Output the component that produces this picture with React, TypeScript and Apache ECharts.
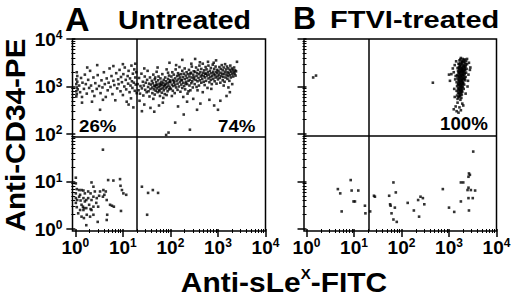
import React, { useEffect, useRef } from "react";
import * as echarts from "echarts";

// ---- data (all values in log10 units of fluorescence) ----
const decades = [0, 1, 2, 3, 4];

const gateA = { x: 1.3, y: 1.95 };
const gateB = { x: 1.32, y: 1.97 };

const pctA = ["26%", "74%"];
const pctB = ["100%"];

const aUpperLeft: number[][] = [
  [0.02,3.15],[0.02,3.05],[0.03,2.98],[0.02,2.90],[0.03,2.84],[0.04,3.22],[0.02,2.79],[0.04,3.10],[0.05,2.94],[0.03,3.30],
  [0.08,3.02],[0.10,2.88],[0.12,3.18],[0.14,2.78],[0.15,3.08],[0.18,2.95],[0.20,3.25],[0.22,3.05],[0.24,2.85],[0.27,3.14],
  [0.29,2.97],[0.31,3.33],[0.33,3.02],[0.36,2.90],[0.38,3.19],[0.40,2.80],[0.42,3.07],[0.45,2.95],[0.47,3.24],[0.50,3.01],
  [0.52,2.51],[0.53,2.86],[0.55,3.13],[0.57,2.98],[0.60,3.30],[0.62,3.05],[0.64,2.78],[0.66,3.17],[0.68,2.92],[0.70,3.08],
  [0.72,3.38],[0.74,2.99],[0.76,3.22],[0.78,2.84],[0.80,3.12],[0.82,3.03],[0.84,2.71],[0.86,3.28],[0.88,2.96],[0.90,3.15],
  [0.91,3.05],[0.93,3.35],[0.95,2.90],[0.96,3.20],[0.98,3.09],[1.00,2.82],[1.01,3.26],[1.03,3.00],[1.04,3.40],[1.06,3.14],
  [1.07,2.94],[1.08,2.68],[1.10,3.22],[1.11,3.06],[1.12,3.33],[1.14,2.88],[1.15,3.17],[1.16,3.02],[1.18,3.44],[1.19,3.11],
  [1.20,2.97],[1.21,3.27],[1.22,2.56],[1.23,3.08],[1.24,3.36],[1.25,2.91],[1.26,3.19],[1.27,3.04],[1.28,3.30],[1.29,2.86],
  [1.12,2.62],[0.35,2.68],[0.58,2.72],[0.25,3.40],[1.00,3.47],[0.14,2.66],[0.46,3.45],[0.80,3.43],[1.17,2.75],[1.26,3.48],
];

const aUpperRight: number[][] = [
  [1.31,3.05],[1.33,2.92],[1.34,3.18],[1.36,2.85],[1.37,3.01],[1.39,3.27],[1.40,2.96],[1.42,3.10],[1.43,2.81],[1.44,3.02],
  [1.46,3.21],[1.47,2.93],[1.48,3.08],[1.50,2.88],[1.51,3.14],[1.52,3.33],[1.53,2.99],[1.55,3.06],[1.56,2.79],[1.57,3.19],
  [1.58,2.95],[1.59,3.04],[1.35,2.70],[1.45,3.38],[1.54,2.90],
  [1.61,3.12],[1.62,2.98],[1.62,2.86],[1.63,3.07],[1.64,3.25],[1.65,2.94],[1.66,3.02],[1.67,2.83],[1.67,3.15],[1.68,3.00],
  [1.69,2.91],[1.70,3.09],[1.71,3.31],[1.71,2.96],[1.72,3.04],[1.73,2.88],[1.74,3.13],[1.75,2.99],[1.75,3.21],[1.76,2.93],
  [1.77,3.06],[1.78,2.80],[1.78,3.01],[1.79,3.17],[1.80,2.95],[1.81,3.10],[1.82,3.03],[1.82,2.87],[1.83,3.26],[1.84,2.97],
  [1.85,3.08],[1.86,3.14],[1.86,2.92],[1.87,3.01],[1.88,2.84],[1.89,3.19],[1.90,3.05],[1.90,2.96],[1.91,3.11],[1.92,3.36],
  [1.93,2.99],[1.94,3.07],[1.94,2.90],[1.95,3.16],[1.96,3.02],[1.97,2.94],[1.97,3.23],[1.98,3.09],[1.99,2.98],[1.99,3.13],
  [1.64,2.74],[1.73,3.40],[1.85,2.76],[1.92,2.82],[1.68,3.19],[1.77,2.90],[1.80,3.05],[1.88,3.03],[1.95,3.29],[1.70,3.03],
  [2.00,3.10],[2.01,2.95],[2.02,3.21],[2.03,3.04],[2.04,3.30],[2.05,2.91],[2.05,3.14],[2.06,3.01],[2.07,3.25],[2.08,3.08],
  [2.09,2.86],[2.10,3.17],[2.10,3.03],[2.11,3.36],[2.12,2.98],[2.13,3.12],[2.14,3.22],[2.15,3.06],[2.15,2.93],[2.16,3.28],
  [2.17,3.15],[2.18,3.00],[2.19,3.41],[2.20,3.09],[2.20,3.19],[2.21,2.89],[2.22,3.26],[2.23,3.04],[2.24,3.13],[2.25,3.33],
  [2.25,2.97],[2.26,3.20],[2.27,3.08],[2.28,3.27],[2.29,3.01],[2.30,3.16],[2.30,3.38],[2.31,2.94],[2.32,3.23],[2.33,3.10],
  [2.34,3.30],[2.35,3.05],[2.35,3.18],[2.36,2.85],[2.37,3.26],[2.38,3.12],[2.39,3.35],[2.40,3.02],[2.40,3.21],[2.41,3.14],
  [2.42,2.92],[2.43,3.29],[2.44,3.07],[2.45,3.19],[2.45,3.42],[2.46,3.11],[2.47,2.98],[2.48,3.25],[2.49,3.16],[2.49,3.32],
  [2.03,2.80],[2.12,3.45],[2.27,2.78],[2.38,2.90],[2.44,3.48],[2.07,3.11],[2.18,3.24],[2.23,3.14],[2.32,3.06],[2.42,3.27],
  [2.50,3.20],[2.51,3.05],[2.52,3.31],[2.53,3.14],[2.54,3.40],[2.55,3.22],[2.55,2.99],[2.56,3.28],[2.57,3.11],[2.58,3.35],
  [2.59,3.18],[2.60,3.02],[2.60,3.26],[2.61,3.44],[2.62,3.13],[2.63,3.30],[2.64,3.21],[2.65,3.08],[2.65,3.37],[2.66,3.24],
  [2.67,3.16],[2.68,3.48],[2.69,3.29],[2.70,3.10],[2.70,3.22],[2.71,3.34],[2.72,3.03],[2.73,3.19],[2.74,3.41],[2.75,3.27],
  [2.75,3.12],[2.76,3.36],[2.77,3.23],[2.78,2.97],[2.79,3.30],[2.80,3.17],[2.80,3.44],[2.81,3.25],[2.82,3.09],[2.83,3.33],
  [2.84,3.20],[2.85,3.39],[2.85,3.14],[2.86,3.28],[2.87,3.05],[2.88,3.22],[2.89,3.46],[2.90,3.31],[2.90,3.16],[2.91,3.26],
  [2.92,3.37],[2.93,3.11],[2.94,3.24],[2.95,3.42],[2.95,3.19],[2.96,3.30],[2.97,3.06],[2.98,3.35],[2.99,3.21],[2.99,3.28],
  [2.57,2.92],[2.68,2.88],[2.79,3.52],[2.86,2.95],[2.62,3.51],[2.73,3.27],[2.91,3.50],
  [3.00,3.15],[3.01,3.33],[3.02,3.24],[3.03,3.41],[3.04,3.18],[3.05,3.29],[3.05,3.08],[3.06,3.37],[3.07,3.22],[3.08,3.45],
  [3.09,3.27],[3.10,3.13],[3.10,3.34],[3.11,3.20],[3.12,3.40],[3.13,3.26],[3.14,3.10],[3.15,3.31],[3.15,3.47],[3.16,3.19],
  [3.17,3.36],[3.18,3.25],[3.19,3.42],[3.20,3.16],[3.20,3.30],[3.21,3.22],[3.22,3.38],[3.23,3.28],[3.24,3.12],[3.25,3.34],
  [3.25,3.24],[3.26,3.44],[3.27,3.19],[3.28,3.31],[3.29,3.38],[3.30,3.26],[3.31,3.35],[3.32,3.21],[3.33,3.30],[3.34,3.40],
  [3.35,3.27],[3.36,3.34],[3.37,3.23],[3.38,3.32],[3.40,3.52],[3.12,3.02],[3.22,2.98],[3.30,3.05],
  [1.45,2.62],[1.58,2.55],[1.66,2.47],[1.84,2.66],[1.91,1.98],[1.96,2.03],[2.10,2.24],[2.16,2.58],[2.41,2.09],[2.35,2.68],
  [2.56,2.51],[2.63,2.64],[2.82,2.72],[3.00,2.51],[3.05,2.70],[3.18,2.80],[2.48,2.74],[1.76,2.60],[2.92,2.60],[3.25,2.88],
  [1.40,2.48],[2.28,2.41],[2.25,3.56],[2.52,3.58],[2.96,3.55],[1.98,3.50],
];

const aLowerLeft: number[][] = [
  [0.01,1.08],[0.01,0.96],[0.03,0.84],[0.08,0.82],[0.13,0.82],[0.17,0.81],[0.01,0.75],[0.10,0.72],[0.20,0.75],[0.27,0.79],
  [0.34,0.98],[0.38,0.89],[0.32,0.75],[0.41,0.79],[0.45,0.65],[0.04,0.61],[0.11,0.60],[0.17,0.65],[0.23,0.61],[0.27,0.65],
  [0.34,0.61],[0.38,0.68],[0.13,0.51],[0.16,0.47],[0.18,0.44],[0.17,0.40],[0.23,0.44],[0.32,0.42],[0.34,0.40],[0.38,0.47],
  [0.03,0.46],[0.10,0.40],[0.24,0.30],[0.31,0.26],[0.18,0.23],[0.23,0.08],[0.47,0.15],[0.52,0.79],[0.59,0.82],[0.64,0.79],
  [0.66,0.61],[0.58,0.68],[0.61,0.72],[0.69,1.03],[0.80,1.02],[0.73,0.51],[0.77,0.49],[0.81,0.47],[0.67,0.30],[0.66,0.19],
  [0.94,1.05],[0.95,0.91],[0.98,0.82],[1.01,0.75],[1.07,0.72],[0.96,0.38],[0.50,0.70],[0.44,0.55],[0.48,0.47],[0.20,0.58],
  [0.29,0.51],[0.08,0.68],[0.01,0.65],[0.01,0.55],[0.06,0.33],[0.13,0.26],[0.38,0.30],[0.58,1.67],
];

const aLowerRight: number[][] = [
  [1.40,0.89],[1.53,0.76],[1.63,0.82],[1.74,0.76],[1.51,0.30],
];

const bUpper: number[][] = [
  [3.25,3.60],[3.29,3.58],[3.33,3.57],[3.22,3.55],[3.36,3.54],[3.27,3.53],[3.31,3.52],[3.24,3.50],[3.34,3.50],[3.20,3.48],
  [3.28,3.48],[3.38,3.47],[3.26,3.46],[3.32,3.45],[3.23,3.44],[3.30,3.43],[3.35,3.42],[3.21,3.41],[3.27,3.40],[3.33,3.40],
  [3.18,3.39],[3.25,3.38],[3.30,3.37],[3.37,3.37],[3.22,3.36],[3.28,3.35],[3.34,3.34],[3.19,3.33],[3.26,3.32],[3.31,3.32],
  [3.23,3.30],[3.29,3.30],[3.36,3.29],[3.20,3.28],[3.27,3.27],[3.33,3.27],[3.24,3.25],[3.30,3.25],[3.17,3.24],[3.26,3.23],
  [3.32,3.22],[3.21,3.21],[3.28,3.20],[3.35,3.20],[3.23,3.19],[3.30,3.18],[3.18,3.17],[3.25,3.16],[3.31,3.15],[3.20,3.14],
  [3.27,3.13],[3.34,3.13],[3.22,3.11],[3.29,3.10],[3.16,3.09],[3.24,3.08],[3.30,3.07],[3.19,3.06],[3.26,3.05],[3.32,3.04],
  [3.21,3.03],[3.27,3.02],[3.17,3.01],[3.24,3.00],[3.29,2.99],[3.19,2.97],[3.25,2.96],[3.31,2.95],[3.21,2.94],[3.27,2.92],
  [3.16,2.91],[3.23,2.90],[3.28,2.89],[3.19,2.87],[3.25,2.86],[3.21,2.84],[3.27,2.83],[3.17,2.81],[3.23,2.80],[3.20,2.77],
  [3.26,2.76],[3.18,2.74],[3.24,2.72],
  [3.24,3.57],[3.31,3.55],[3.28,3.51],[3.22,3.47],[3.35,3.46],[3.24,3.42],[3.31,3.41],[3.21,3.38],[3.27,3.37],[3.33,3.36],
  [3.24,3.34],[3.29,3.33],[3.21,3.31],[3.26,3.30],[3.32,3.29],[3.22,3.26],[3.29,3.24],[3.19,3.22],[3.25,3.21],[3.33,3.17],
  [3.22,3.16],[3.28,3.15],[3.25,3.12],[3.21,3.10],[3.27,3.09],[3.23,3.06],[3.29,3.05],[3.20,3.04],[3.25,3.02],[3.22,2.98],
  [3.27,2.97],[3.24,2.93],[3.20,2.92],[3.26,2.90],[3.22,2.87],[3.24,2.82],[3.21,2.79],
  [3.12,3.45],[3.10,3.30],[3.13,3.15],[3.08,3.38],[3.42,3.50],[3.44,3.35],[3.41,3.25],[3.40,3.12],[3.39,3.00],[3.14,3.22],
  [3.11,2.95],[3.05,3.26],[3.45,3.40],[3.38,3.58],[3.15,3.53],[3.35,2.85],[3.12,2.78],
  [3.18,2.66],[3.28,2.64],[3.14,2.58],[3.22,2.56],[3.30,2.60],[3.16,2.48],[3.25,2.50],[3.20,2.45],[3.10,2.52],
  [2.66,3.08],[3.00,3.25],[3.02,3.12],[0.14,3.19],[0.20,3.23],
];

const bLower: number[][] = [
  [0.66,0.84],[0.71,0.75],[0.74,0.37],[0.93,1.03],[0.95,0.81],[0.99,0.58],[1.02,0.58],[1.09,0.81],[1.23,0.49],[1.24,0.33],
  [1.34,0.37],[1.42,0.70],[1.44,0.68],[1.74,0.70],[1.76,0.52],[1.77,0.49],[1.79,0.33],[1.83,0.98],[1.86,0.45],[1.83,0.20],
  [1.90,0.15],[1.88,0.77],[2.13,0.55],[2.26,0.39],[2.35,0.61],[2.37,0.26],[2.40,0.68],[2.45,0.65],[2.48,0.52],[2.87,0.84],
  [3.00,0.45],[3.11,0.36],[3.25,0.98],[3.30,0.98],[3.25,0.58],[3.39,0.82],[3.41,1.10],[3.42,1.17],[3.44,1.14],[3.41,0.87],
  [3.41,0.65],[3.42,0.39],[3.46,0.82],[3.50,0.65],[3.55,0.81],[3.51,1.63],
];

// ---- presentation ----
const FONT = "'Liberation Sans', Arial, Helvetica, sans-serif";
const minorTicks: number[] = [];
for (let k = 0; k < 4; k++) for (let m = 2; m <= 9; m++) minorTicks.push(k + Math.log10(m));

const rich = {
  b: { fontSize: 19, fontWeight: "bold", fontFamily: FONT, color: "#000", lineHeight: 20 },
  s: { fontSize: 12, fontWeight: "bold", fontFamily: FONT, color: "#000", lineHeight: 14, verticalAlign: "top" },
};

function axisPair(kind: "x" | "y", gridIndex: number, min: number, showLabels: boolean) {
  const major: any = {
    type: "value",
    gridIndex,
    min,
    max: 4,
    position: kind === "x" ? "bottom" : "left",
    axisLine: { show: false },
    splitLine: { show: false },
    axisTick: {
      show: true,
      length: kind === "x" ? 8 : 9,
      customValues: decades,
      lineStyle: { color: "#000", width: 1.5 },
    },
    axisLabel: {
      show: showLabels,
      customValues: decades,
      margin: kind === "x" ? 6 : 10,
      formatter: (v: number) => `{b|10}{s|${Math.round(v)}}`,
      rich,
    },
  };
  const minor: any = {
    type: "value",
    gridIndex,
    min,
    max: 4,
    position: kind === "x" ? "bottom" : "left",
    axisLine: { show: false },
    splitLine: { show: false },
    axisTick: {
      show: true,
      length: 4,
      customValues: minorTicks,
      lineStyle: { color: "#000", width: 1 },
    },
    axisLabel: { show: false },
  };
  return [major, minor];
}

function gateLines(g: { x: number; y: number }) {
  return {
    silent: true,
    symbol: ["none", "none"],
    label: { show: false },
    lineStyle: { color: "#000", width: 1.5, type: "solid" },
    emphasis: { disabled: true },
    data: [{ xAxis: g.x }, { yAxis: g.y }],
  };
}

function txt(text: string, x: number, y: number, size: number, sx = 1, align = "left", extra: any = {}) {
  return {
    type: "text",
    x,
    y,
    scaleX: sx,
    ...extra,
    style: {
      text,
      fontSize: size,
      lineHeight: Math.round(size * 0.9),
      fontWeight: "bold",
      fontFamily: FONT,
      fill: "#000",
      textAlign: align,
      textVerticalAlign: "middle",
    },
  };
}

export default function App() {
  const ref = useRef<HTMLDivElement>(null);
  useEffect(() => {
    document.body.style.margin = "0";
    const chart = echarts.init(ref.current!, null, { renderer: "svg" });
    const gridStyle = { show: true, borderColor: "#000", borderWidth: 1.5, backgroundColor: "transparent" };
    const scatterBase = {
      type: "scatter",
      symbol: "rect",
      symbolSize: 2.6,
      itemStyle: { color: "#000" },
      silent: true,
    };
    const option: any = {
      animation: false,
      backgroundColor: "#fff",
      grid: [
        { left: 72.5, top: 39, width: 193, height: 192, ...gridStyle },
        { left: 304, top: 39, width: 192.5, height: 192, ...gridStyle },
      ],
      xAxis: [...axisPair("x", 0, -0.06, true), ...axisPair("x", 1, -0.053, true)],
      yAxis: [...axisPair("y", 0, -0.042, true), ...axisPair("y", 1, -0.042, false)],
      series: [
        {
          ...scatterBase,
          xAxisIndex: 0,
          yAxisIndex: 0,
          data: [...aUpperLeft, ...aUpperRight, ...aLowerLeft, ...aLowerRight],
          markLine: gateLines(gateA),
        },
        {
          ...scatterBase,
          xAxisIndex: 2,
          yAxisIndex: 2,
          data: [...bUpper, ...bLower],
          markLine: gateLines(gateB),
        },
      ],
      graphic: [
        txt("A", 65, 18.5, 34),
        txt("Untreated", 118, 20.5, 25, 1.14),
        txt("B", 293, 18, 32),
        txt("FTVI-treated", 330, 19.5, 24, 1.21),
        txt(pctA[0], 79, 126.5, 17, 1.1),
        txt(pctA[1], 218, 126.5, 17, 1.1),
        txt(pctB[0], 440, 124, 18, 1.04),
        txt("Anti-CD34-PE", 15, 135, 28, 1.06, "center", { rotation: Math.PI / 2 }),
        {
          type: "text",
          x: 284,
          y: 282,
          scaleX: 1.07,
          style: {
            text: "{a|Anti-sLe}{s|X}{a|-FITC}",
            textAlign: "center",
            textVerticalAlign: "middle",
            rich: {
              a: { fontSize: 28, fontWeight: "bold", fontFamily: FONT, fill: "#000", color: "#000", lineHeight: 30 },
              s: { fontSize: 14, fontWeight: "bold", fontFamily: FONT, fill: "#000", color: "#000", lineHeight: 20, verticalAlign: "top" },
            },
          },
        },
      ],
    };
    chart.setOption(option);
    return () => chart.dispose();
  }, []);
  return <div ref={ref} style={{ width: 520, height: 300 }} />;
}
